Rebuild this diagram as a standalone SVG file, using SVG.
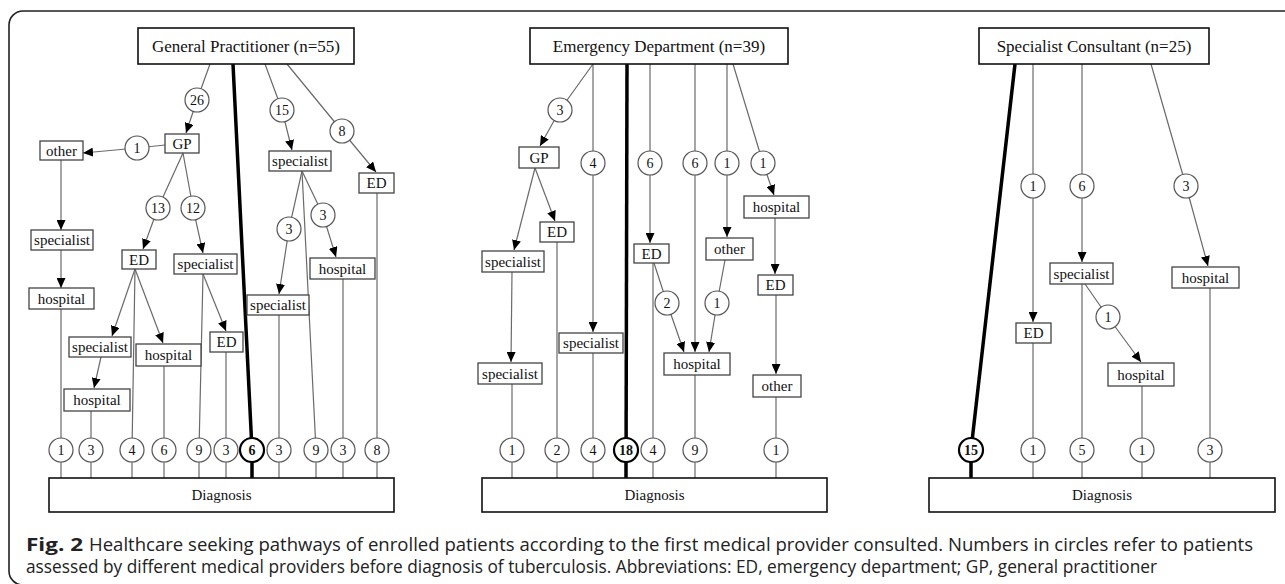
<svg xmlns="http://www.w3.org/2000/svg" width="1285" height="584" viewBox="0 0 1285 584">
<style>
.frame{fill:none;stroke:#222;stroke-width:1.6}
.box{fill:#fff;stroke:#444;stroke-width:1.3}
.tbox{fill:#fff;stroke:#111;stroke-width:1.6}
.lbl{font-family:'Liberation Serif','DejaVu Serif','Noto Serif',serif;font-size:15px;text-anchor:middle;fill:#111}
.ttl{font-size:17px}
.num{font-size:14px}
.bnum{font-size:14px;font-weight:bold}
.cn{fill:#fff;stroke:#555;stroke-width:1.2}
.cb{fill:#fff;stroke:#000;stroke-width:2.2}
.ln{stroke:#6a6a6a;stroke-width:1.2;fill:none}
.ar{marker-end:url(#ah)}
.thick{stroke:#000;stroke-width:3.5;fill:none}
.cap{font-family:'Open Sans','Liberation Sans',sans-serif;font-size:18px;fill:#222}
</style>
<defs>
<marker id="ah" markerUnits="userSpaceOnUse" markerWidth="10" markerHeight="9" refX="10" refY="4.5" orient="auto">
<path d="M0,0 L10,4.5 L0,9 z" fill="#000"/>
</marker>
</defs>
<rect class="frame" x="9" y="11" width="1300" height="574" rx="14"/>

<g id="connectors">
<path class="ln ar" d="M210,64 L197,100 L186,133"/>
<path class="ln ar" d="M165,145 L137,148 L83,153"/>
<path class="ln ar" d="M61,160 L61,230"/>
<path class="ln ar" d="M61,250 L61,288"/>
<path class="ln" d="M61,309 L61,478"/>
<path class="ln ar" d="M183,153 L158,208 L143,249"/>
<path class="ln ar" d="M183,153 L193,208 L203,253"/>
<path class="ln ar" d="M135,269 L112,336"/>
<path class="ln ar" d="M135,269 L163,343"/>
<path class="ln" d="M135,269 L132,450 L132,478"/>
<path class="ln ar" d="M101,357 L94,388"/>
<path class="ln" d="M91,411 L91,478"/>
<path class="ln" d="M164,366 L164,478"/>
<path class="ln" d="M203,274 L199,450 L199,478"/>
<path class="ln ar" d="M203,274 L226,331"/>
<path class="ln" d="M226,352 L226,478"/>
<path class="thick" d="M233,64 L252,450 L252,478"/>
<path class="ln ar" d="M265,64 L282,110 L292,150"/>
<path class="ln ar" d="M287,64 L342,131 L376,172"/>
<path class="ln ar" d="M302,171 L289,229 L279,294"/>
<path class="ln ar" d="M302,171 L323,215 L336,257"/>
<path class="ln" d="M302,171 L316,450 L316,478"/>
<path class="ln" d="M279,315 L279,478"/>
<path class="ln" d="M343,279 L343,478"/>
<path class="ln" d="M377,193 L377,478"/>
<path class="ln ar" d="M593,64 L560,110 L540,146"/>
<path class="ln ar" d="M593,64 L593,332"/>
<path class="thick" d="M627,64 L626,478"/>
<path class="ln ar" d="M535,168 L514,250"/>
<path class="ln ar" d="M535,168 L555,221"/>
<path class="ln ar" d="M512,272 L511,362"/>
<path class="ln" d="M512,384 L512,478"/>
<path class="ln" d="M557,242 L557,478"/>
<path class="ln" d="M593,353 L593,478"/>
<path class="ln ar" d="M650,64 L650,243"/>
<path class="ln" d="M653,263 L653,478"/>
<path class="ln ar" d="M654,263 L667,303 L684,352"/>
<path class="ln ar" d="M695,64 L695,352"/>
<path class="ln ar" d="M727,64 L727,237"/>
<path class="ln ar" d="M725,260 L717,303 L709,352"/>
<path class="ln ar" d="M733,64 L763,163 L774,195"/>
<path class="ln ar" d="M775,218 L775,274"/>
<path class="ln ar" d="M776,295 L776,374"/>
<path class="ln" d="M776,397 L776,478"/>
<path class="ln" d="M695,375 L695,478"/>
<path class="thick" d="M1015,64 L971,450 L971,478"/>
<path class="ln ar" d="M1033,64 L1033,322"/>
<path class="ln ar" d="M1082,64 L1082,262"/>
<path class="ln ar" d="M1151,64 L1186,186 L1208,266"/>
<path class="ln ar" d="M1085,284 L1108,317 L1141,362"/>
<path class="ln" d="M1082,284 L1082,478"/>
<path class="ln" d="M1033,343 L1033,478"/>
<path class="ln" d="M1142,386 L1142,478"/>
<path class="ln" d="M1210,288 L1210,478"/>
</g>

<g id="gp-title"><rect class="tbox" x="138" y="28" width="216" height="36"/><text class="lbl ttl" x="246" y="46" dy="0.35em">General Practitioner (n=55)</text></g>
<g id="l-gp"><rect class="box" x="165" y="134" width="34" height="19"/><text class="lbl" x="182" y="143.5" dy="0.35em">GP</text></g>
<g id="l-other"><rect class="box" x="40" y="141" width="43" height="19"/><text class="lbl" x="61.5" y="150.5" dy="0.35em">other</text></g>
<g id="l-spec1"><rect class="box" x="31" y="230" width="62" height="20"/><text class="lbl" x="62" y="240" dy="0.35em">specialist</text></g>
<g id="l-hosp1"><rect class="box" x="29" y="288" width="65" height="21"/><text class="lbl" x="61.5" y="298.5" dy="0.35em">hospital</text></g>
<g id="l-ed1"><rect class="box" x="122" y="250" width="34" height="19"/><text class="lbl" x="139" y="259.5" dy="0.35em">ED</text></g>
<g id="l-spec2"><rect class="box" x="174" y="254" width="63" height="20"/><text class="lbl" x="205.5" y="264" dy="0.35em">specialist</text></g>
<g id="l-spec5"><rect class="box" x="69" y="337" width="62" height="20"/><text class="lbl" x="100" y="347" dy="0.35em">specialist</text></g>
<g id="l-hosp2"><rect class="box" x="136" y="344" width="65" height="22"/><text class="lbl" x="168.5" y="355" dy="0.35em">hospital</text></g>
<g id="l-hosp3"><rect class="box" x="64" y="389" width="66" height="22"/><text class="lbl" x="97" y="400" dy="0.35em">hospital</text></g>
<g id="l-ed2"><rect class="box" x="210" y="332" width="33" height="20"/><text class="lbl" x="226.5" y="342" dy="0.35em">ED</text></g>
<g id="l-spec3"><rect class="box" x="269" y="151" width="62" height="20"/><text class="lbl" x="300" y="161" dy="0.35em">specialist</text></g>
<g id="l-ed3"><rect class="box" x="359" y="173" width="35" height="20"/><text class="lbl" x="376.5" y="183" dy="0.35em">ED</text></g>
<g id="l-spec4"><rect class="box" x="247" y="295" width="62" height="20"/><text class="lbl" x="278" y="305" dy="0.35em">specialist</text></g>
<g id="l-hosp4"><rect class="box" x="310" y="258" width="65" height="21"/><text class="lbl" x="342.5" y="268.5" dy="0.35em">hospital</text></g>
<g id="l-diag"><rect class="tbox" x="49" y="478" width="345" height="34"/><text class="lbl" x="221.5" y="495" dy="0.35em">Diagnosis</text></g>

<g id="l-c26"><circle class="cn" cx="197" cy="100" r="12"/><text class="lbl num" x="197" y="100" dy="0.35em">26</text></g>
<g id="l-c1a"><circle class="cn" cx="137" cy="148" r="12"/><text class="lbl num" x="137" y="148" dy="0.35em">1</text></g>
<g id="l-c13"><circle class="cn" cx="158" cy="208" r="12"/><text class="lbl num" x="158" y="208" dy="0.35em">13</text></g>
<g id="l-c12"><circle class="cn" cx="193" cy="208" r="12"/><text class="lbl num" x="193" y="208" dy="0.35em">12</text></g>
<g id="l-c15"><circle class="cn" cx="282" cy="110" r="12"/><text class="lbl num" x="282" y="110" dy="0.35em">15</text></g>
<g id="l-c8"><circle class="cn" cx="342" cy="131" r="12"/><text class="lbl num" x="342" y="131" dy="0.35em">8</text></g>
<g id="l-c3a"><circle class="cn" cx="289" cy="229" r="12"/><text class="lbl num" x="289" y="229" dy="0.35em">3</text></g>
<g id="l-c3b"><circle class="cn" cx="323" cy="215" r="12"/><text class="lbl num" x="323" y="215" dy="0.35em">3</text></g>
<g id="l-b1"><circle class="cn" cx="61" cy="450" r="12"/><text class="lbl num" x="61" y="450" dy="0.35em">1</text></g>
<g id="l-b2"><circle class="cn" cx="91" cy="450" r="12"/><text class="lbl num" x="91" y="450" dy="0.35em">3</text></g>
<g id="l-b3"><circle class="cn" cx="132" cy="450" r="12"/><text class="lbl num" x="132" y="450" dy="0.35em">4</text></g>
<g id="l-b4"><circle class="cn" cx="164" cy="450" r="12"/><text class="lbl num" x="164" y="450" dy="0.35em">6</text></g>
<g id="l-b5"><circle class="cn" cx="199" cy="450" r="12"/><text class="lbl num" x="199" y="450" dy="0.35em">9</text></g>
<g id="l-b6"><circle class="cn" cx="226" cy="450" r="12"/><text class="lbl num" x="226" y="450" dy="0.35em">3</text></g>
<g id="l-b7"><circle class="cb" cx="252" cy="450" r="12"/><text class="lbl bnum" x="252" y="450" dy="0.35em">6</text></g>
<g id="l-b8"><circle class="cn" cx="279" cy="450" r="12"/><text class="lbl num" x="279" y="450" dy="0.35em">3</text></g>
<g id="l-b9"><circle class="cn" cx="316" cy="450" r="12"/><text class="lbl num" x="316" y="450" dy="0.35em">9</text></g>
<g id="l-b10"><circle class="cn" cx="343" cy="450" r="12"/><text class="lbl num" x="343" y="450" dy="0.35em">3</text></g>
<g id="l-b11"><circle class="cn" cx="377" cy="450" r="12"/><text class="lbl num" x="377" y="450" dy="0.35em">8</text></g>

<g id="ed-title"><rect class="tbox" x="530" y="28" width="258" height="36"/><text class="lbl ttl" x="659" y="46" dy="0.35em">Emergency Department (n=39)</text></g>
<g id="m-gp"><rect class="box" x="519" y="147" width="40" height="21"/><text class="lbl" x="539" y="157.5" dy="0.35em">GP</text></g>
<g id="m-spec1"><rect class="box" x="482" y="251" width="62" height="21"/><text class="lbl" x="513" y="261.5" dy="0.35em">specialist</text></g>
<g id="m-ed1"><rect class="box" x="540" y="222" width="34" height="20"/><text class="lbl" x="557" y="232" dy="0.35em">ED</text></g>
<g id="m-spec2"><rect class="box" x="478" y="363" width="64" height="21"/><text class="lbl" x="510" y="373.5" dy="0.35em">specialist</text></g>
<g id="m-spec3"><rect class="box" x="559" y="333" width="64" height="20"/><text class="lbl" x="591" y="343" dy="0.35em">specialist</text></g>
<g id="m-ed2"><rect class="box" x="634" y="244" width="35" height="19"/><text class="lbl" x="651.5" y="253.5" dy="0.35em">ED</text></g>
<g id="m-hosp1"><rect class="box" x="664" y="353" width="66" height="22"/><text class="lbl" x="697" y="364" dy="0.35em">hospital</text></g>
<g id="m-other1"><rect class="box" x="706" y="238" width="47" height="22"/><text class="lbl" x="729.5" y="249" dy="0.35em">other</text></g>
<g id="m-hosp2"><rect class="box" x="744" y="196" width="65" height="22"/><text class="lbl" x="776.5" y="207" dy="0.35em">hospital</text></g>
<g id="m-ed3"><rect class="box" x="758" y="275" width="35" height="20"/><text class="lbl" x="775.5" y="285" dy="0.35em">ED</text></g>
<g id="m-other2"><rect class="box" x="753" y="375" width="48" height="22"/><text class="lbl" x="777" y="386" dy="0.35em">other</text></g>
<g id="m-diag"><rect class="tbox" x="482" y="478" width="345" height="34"/><text class="lbl" x="654.5" y="495" dy="0.35em">Diagnosis</text></g>

<g id="m-c3"><circle class="cn" cx="560" cy="110" r="12"/><text class="lbl num" x="560" y="110" dy="0.35em">3</text></g>
<g id="m-c4"><circle class="cn" cx="593" cy="163" r="12"/><text class="lbl num" x="593" y="163" dy="0.35em">4</text></g>
<g id="m-c6a"><circle class="cn" cx="650" cy="163" r="12"/><text class="lbl num" x="650" y="163" dy="0.35em">6</text></g>
<g id="m-c6b"><circle class="cn" cx="695" cy="163" r="12"/><text class="lbl num" x="695" y="163" dy="0.35em">6</text></g>
<g id="m-c1a"><circle class="cn" cx="727" cy="163" r="12"/><text class="lbl num" x="727" y="163" dy="0.35em">1</text></g>
<g id="m-c1b"><circle class="cn" cx="763" cy="163" r="12"/><text class="lbl num" x="763" y="163" dy="0.35em">1</text></g>
<g id="m-c2"><circle class="cn" cx="667" cy="303" r="12"/><text class="lbl num" x="667" y="303" dy="0.35em">2</text></g>
<g id="m-c1c"><circle class="cn" cx="717" cy="303" r="12"/><text class="lbl num" x="717" y="303" dy="0.35em">1</text></g>
<g id="m-b1"><circle class="cn" cx="512" cy="450" r="12"/><text class="lbl num" x="512" y="450" dy="0.35em">1</text></g>
<g id="m-b2"><circle class="cn" cx="557" cy="450" r="12"/><text class="lbl num" x="557" y="450" dy="0.35em">2</text></g>
<g id="m-b3"><circle class="cn" cx="593" cy="450" r="12"/><text class="lbl num" x="593" y="450" dy="0.35em">4</text></g>
<g id="m-b4"><circle class="cb" cx="626" cy="450" r="12"/><text class="lbl bnum" x="626" y="450" dy="0.35em">18</text></g>
<g id="m-b5"><circle class="cn" cx="653" cy="450" r="12"/><text class="lbl num" x="653" y="450" dy="0.35em">4</text></g>
<g id="m-b6"><circle class="cn" cx="695" cy="450" r="12"/><text class="lbl num" x="695" y="450" dy="0.35em">9</text></g>
<g id="m-b7"><circle class="cn" cx="776" cy="450" r="12"/><text class="lbl num" x="776" y="450" dy="0.35em">1</text></g>

<g id="sc-title"><rect class="tbox" x="979" y="28" width="230" height="36"/><text class="lbl ttl" x="1094" y="46" dy="0.35em">Specialist Consultant (n=25)</text></g>
<g id="r-ed"><rect class="box" x="1016" y="323" width="35" height="20"/><text class="lbl" x="1033.5" y="333" dy="0.35em">ED</text></g>
<g id="r-spec"><rect class="box" x="1050" y="263" width="63" height="21"/><text class="lbl" x="1081.5" y="273.5" dy="0.35em">specialist</text></g>
<g id="r-hosp1"><rect class="box" x="1172" y="267" width="67" height="21"/><text class="lbl" x="1205.5" y="277.5" dy="0.35em">hospital</text></g>
<g id="r-hosp2"><rect class="box" x="1108" y="363" width="66" height="23"/><text class="lbl" x="1141" y="374.5" dy="0.35em">hospital</text></g>
<g id="r-diag"><rect class="tbox" x="929" y="478" width="346" height="34"/><text class="lbl" x="1102" y="495" dy="0.35em">Diagnosis</text></g>

<g id="r-c1"><circle class="cn" cx="1033" cy="186" r="12"/><text class="lbl num" x="1033" y="186" dy="0.35em">1</text></g>
<g id="r-c6"><circle class="cn" cx="1082" cy="186" r="12"/><text class="lbl num" x="1082" y="186" dy="0.35em">6</text></g>
<g id="r-c3"><circle class="cn" cx="1186" cy="186" r="12"/><text class="lbl num" x="1186" y="186" dy="0.35em">3</text></g>
<g id="r-c1b"><circle class="cn" cx="1108" cy="317" r="12"/><text class="lbl num" x="1108" y="317" dy="0.35em">1</text></g>
<g id="r-b1"><circle class="cb" cx="971" cy="450" r="12"/><text class="lbl bnum" x="971" y="450" dy="0.35em">15</text></g>
<g id="r-b2"><circle class="cn" cx="1033" cy="450" r="12"/><text class="lbl num" x="1033" y="450" dy="0.35em">1</text></g>
<g id="r-b3"><circle class="cn" cx="1082" cy="450" r="12"/><text class="lbl num" x="1082" y="450" dy="0.35em">5</text></g>
<g id="r-b4"><circle class="cn" cx="1142" cy="450" r="12"/><text class="lbl num" x="1142" y="450" dy="0.35em">1</text></g>
<g id="r-b5"><circle class="cn" cx="1210" cy="450" r="12"/><text class="lbl num" x="1210" y="450" dy="0.35em">3</text></g>

<text class="cap" x="26" y="551" font-weight="bold" textLength="57" lengthAdjust="spacingAndGlyphs">Fig. 2</text>
<text class="cap" x="89" y="551" textLength="1164" lengthAdjust="spacingAndGlyphs">Healthcare seeking pathways of enrolled patients according to the first medical provider consulted. Numbers in circles refer to patients</text>
<text class="cap" x="26" y="573" textLength="1131" lengthAdjust="spacingAndGlyphs">assessed by different medical providers before diagnosis of tuberculosis. Abbreviations: ED, emergency department; GP, general practitioner</text>
</svg>
